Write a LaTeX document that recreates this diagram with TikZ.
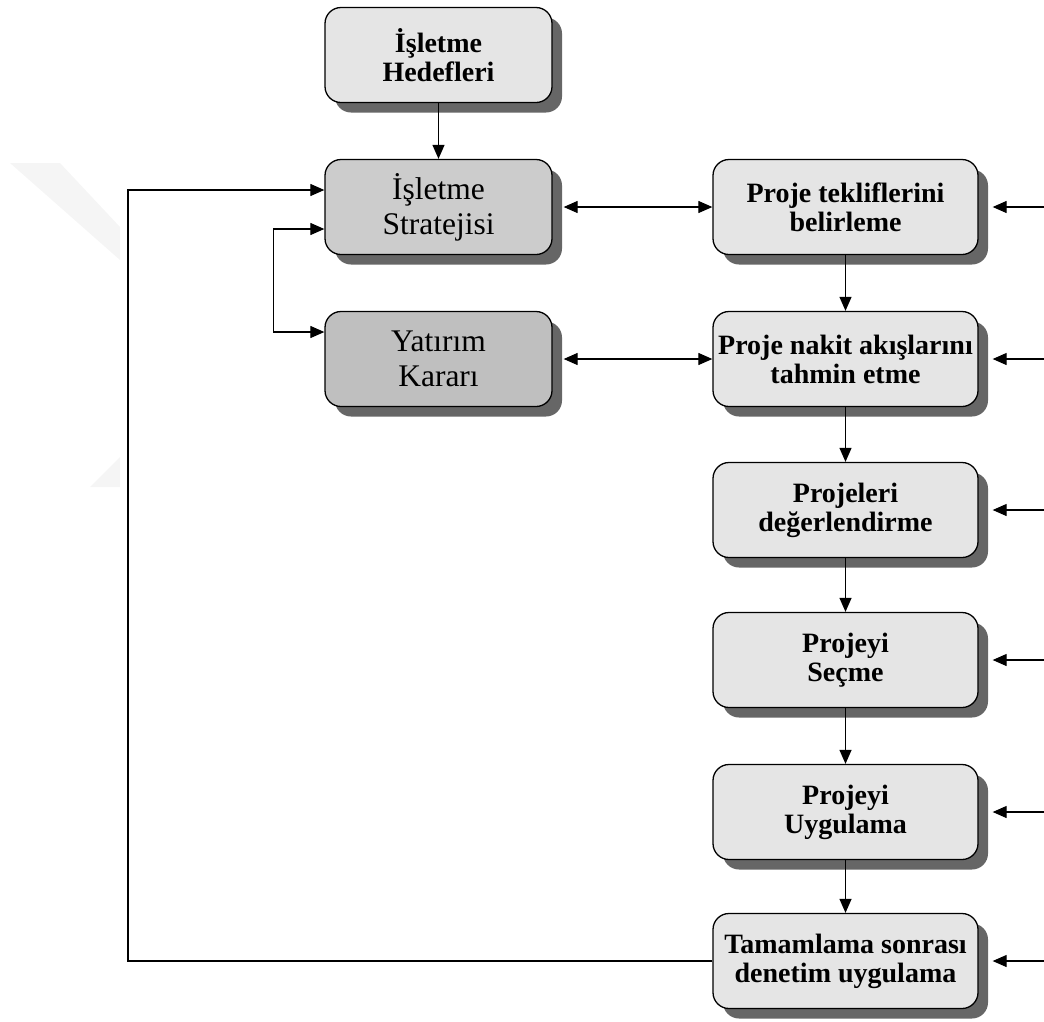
\documentclass[tikz,border=0pt]{standalone}
\usepackage{fontspec}
\setmainfont{Liberation Serif}
\usetikzlibrary{arrows.meta,shadows}

\tikzset{
  kutu/.style={draw=black, line width=1.3pt, rounded corners=16pt, align=center, inner sep=2pt,
    drop shadow={shadow xshift=10pt, shadow yshift=-10pt, fill=black!60, opacity=1}},
  kalin/.style={kutu, fill=black!10, font=\fontsize{28}{29}\selectfont\bfseries},
  ince/.style={kutu, font=\fontsize{31.5}{35}\selectfont},
  sol/.style={minimum width=227pt, minimum height=95pt},
  sag/.style={minimum width=265pt, minimum height=95pt},
  ucgen/.tip={Triangle[length=14pt,width=12pt]},
  ok/.style={line width=1.2pt, -ucgen},
  ciftok/.style={line width=1.2pt, ucgen-ucgen},
}

\begin{document}
\begin{tikzpicture}[x=1pt,y=-1pt]
  \useasboundingbox (0,0) rectangle (1044,1021);
  % faint background mark
  \fill[black!4] (10,163) -- (60,163) -- (120,227) -- (120,260) -- cycle;
  \fill[black!4] (90,487) -- (120,457) -- (120,487) -- cycle;

  % left column
  \node[kalin, sol] (IH) at (438.5,55) {İşletme\\Hedefleri};
  \node[ince, sol, fill=black!20] (IS) at (438.5,207) {İşletme\\Stratejisi};
  \node[ince, sol, fill=black!25] (YK) at (438.5,359) {Yatırım\\Kararı};

  % right column
  \node[kalin, sag] (PT) at (845.5,207) {Proje tekliflerini\\belirleme};
  \node[kalin, sag] (PN) at (845.5,359) {Proje nakit akışlarını\\tahmin etme};
  \node[kalin, sag] (PD) at (845.5,510) {Projeleri\\değerlendirme};
  \node[kalin, sag] (PS) at (845.5,660) {Projeyi\\Seçme};
  \node[kalin, sag] (PU) at (845.5,812) {Projeyi\\Uygulama};
  \node[kalin, sag] (TS) at (845.5,961) {Tamamlama sonrası\\denetim uygulama};

  \coordinate (kenar) at (1044,0);
  \coordinate (geri) at (128,0);

  % connectors
  \draw[ok] (IH) -- (IS);
  \draw[ciftok, shorten <=11pt] (IS.east) -- (PT.west);
  \draw[ciftok, shorten <=11pt] (YK.east) -- (PN.west);
  \draw[ok] (PT) -- (PN);
  \draw[ok] (PN) -- (PD);
  \draw[ok] (PD) -- (PS);
  \draw[ok] (PS) -- (PU);
  \draw[ok] (PU) -- (TS);
  \foreach \k in {PT,PN,PD,PS,PU,TS}
    \draw[ok, shorten >=14pt] (\k.east -| kenar) -- (\k.east);
  \draw[ciftok] ([yshift=-22pt]IS.west) -- ++(-51,0) |- ([yshift=27pt]YK.west);
  \draw[ok] (TS.west) -- (TS.west -| geri) |- ([yshift=17pt]IS.west);
\end{tikzpicture}
\end{document}
